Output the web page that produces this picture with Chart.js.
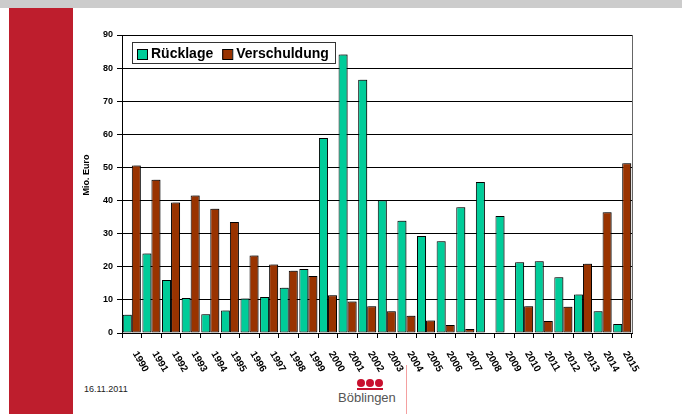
<!DOCTYPE html>
<html lang="de">
<head>
<meta charset="UTF-8">
<title>Rücklage und Verschuldung</title>
<script src="https://cdn.jsdelivr.net/npm/chart.js"></script>
<style>
  body { margin: 0; width: 682px; height: 414px; position: relative; overflow: hidden; background: #fff; font-family: Arial, "Liberation Sans", sans-serif; }
  #topbar { position: absolute; left: 0; top: 0; width: 682px; height: 8px; background: #cccccc; }
  #redblock { position: absolute; left: 9px; top: 8px; width: 64px; height: 406px; background: #be1e2d; }
  #date { position: absolute; left: 84px; top: 384px; font-size: 9px; line-height: 10px; color: #222; }
  .dot { position: absolute; top: 379px; width: 8px; height: 8px; border-radius: 50%; background: #c8102e; }
  #underline { position: absolute; left: 357px; top: 388px; width: 26px; height: 2px; background: #c8102e; }
  #town { position: absolute; left: 338px; top: 390px; font-size: 13px; line-height: 15px; color: #555; }
  #redline { position: absolute; left: 406px; top: 365px; width: 1px; height: 49px; background: #f4a0a0; }
  #chartbox { position: absolute; left: 0; top: 0; width: 682px; height: 414px; }
</style>
</head>
<body>
<div id="topbar"></div>
<div id="redblock"></div>
<div id="date">16.11.2011</div>
<div class="dot" style="left:357px"></div>
<div class="dot" style="left:366px"></div>
<div class="dot" style="left:375px"></div>
<div id="underline"></div>
<div id="town">Böblingen</div>
<div id="redline"></div>
<div id="chartbox"><canvas id="chart" width="682" height="414"></canvas></div>

<script>
const years = ['1990','1991','1992','1993','1994','1995','1996','1997','1998','1999','2000','2001','2002',
               '2003','2004','2005','2006','2007','2008','2009','2010','2011','2012','2013','2014','2015'];
const ruecklage = [5.5, 24.0, 16.0, 10.6, 5.7, 6.8, 10.4, 10.9, 13.7, 19.3, 58.9, 84.1, 76.5,
                   40.1, 33.9, 29.3, 27.7, 38.0, 45.6, 35.3, 21.4, 21.7, 16.8, 11.6, 6.6, 2.7];
const verschuldung = [50.6, 46.3, 39.4, 41.5, 37.5, 33.5, 23.4, 20.7, 18.8, 17.2, 11.4, 9.5, 8.1,
                      6.6, 5.2, 3.8, 2.4, 1.2, 0, 0, 8.1, 3.6, 7.9, 20.9, 36.5, 51.3];
const yMax = 90;
const yStep = 10;
const yTitle = 'Mio. Euro';

// shadow behind bars, like the old office chart
const barShadow = {
  id: 'barShadow',
  beforeDatasetsDraw(chart) {
    const ctx = chart.ctx;
    ctx.save();
    ctx.shadowColor = 'rgba(0,0,0,0.3)';
    ctx.shadowOffsetX = 2;
    ctx.shadowOffsetY = -1;
    ctx.shadowBlur = 0;
  },
  afterDatasetsDraw(chart) {
    chart.ctx.restore();
  }
};

// rotated year labels, axis title, right border and legend box
const extras = {
  id: 'extras',
  afterDraw(chart) {
    const ctx = chart.ctx;
    const area = chart.chartArea;
    const xs = chart.scales.x;

    ctx.save();
    ctx.strokeStyle = '#666';
    ctx.lineWidth = 1;
    ctx.beginPath();
    ctx.moveTo(Math.round(area.right) + 0.5, area.top);
    ctx.lineTo(Math.round(area.right) + 0.5, area.bottom);
    ctx.stroke();

    ctx.fillStyle = '#000';
    ctx.font = 'bold 10px Arial, "Liberation Sans", sans-serif';
    ctx.textAlign = 'left';
    ctx.textBaseline = 'middle';
    years.forEach((y, i) => {
      const x = xs.getPixelForValue(i);
      ctx.save();
      ctx.translate(x + 3, area.bottom + 19);
      ctx.rotate(60 * Math.PI / 180);
      ctx.fillText(y, 0, 0);
      ctx.restore();
    });

    // y title sits a bit above the middle in the original
    ctx.save();
    ctx.font = 'bold 9px Arial, "Liberation Sans", sans-serif';
    ctx.textAlign = 'center';
    ctx.translate(area.left - 35, area.top + (area.bottom - area.top) * 0.47);
    ctx.rotate(-Math.PI / 2);
    ctx.fillText(yTitle, 0, 0);
    ctx.restore();

    // legend
    const lx = area.left + 10, ly = area.top + 7, lw = 203, lh = 21;
    ctx.fillStyle = '#fff';
    ctx.fillRect(lx, ly, lw, lh);
    ctx.strokeStyle = '#333';
    ctx.strokeRect(lx + 0.5, ly + 0.5, lw, lh);
    ctx.font = 'bold 14px Arial, "Liberation Sans", sans-serif';
    let cx = lx + 5;
    chart.data.datasets.forEach(ds => {
      ctx.fillStyle = ds.backgroundColor;
      ctx.fillRect(cx, ly + 7, 10, 10);
      ctx.strokeStyle = '#000';
      ctx.strokeRect(cx + 0.5, ly + 7.5, 10, 10);
      ctx.fillStyle = '#000';
      ctx.textBaseline = 'middle';
      ctx.fillText(ds.label, cx + 14, ly + 12);
      cx += 14 + ctx.measureText(ds.label).width + 9;
    });
    ctx.restore();
  }
};

new Chart(document.getElementById('chart'), {
  type: 'bar',
  data: {
    labels: years,
    datasets: [
      { label: 'Rücklage', data: ruecklage, backgroundColor: '#00cc99', borderColor: '#000', borderWidth: 1,
        borderSkipped: false, categoryPercentage: 0.92, barPercentage: 1 },
      { label: 'Verschuldung', data: verschuldung, backgroundColor: '#993300', borderColor: '#000', borderWidth: 1,
        borderSkipped: false, categoryPercentage: 0.92, barPercentage: 1 }
    ]
  },
  options: {
    responsive: false,
    animation: false,
    devicePixelRatio: 1,
    layout: { padding: { left: 80, top: 35, right: 50, bottom: 0 } },
    plugins: { legend: { display: false }, tooltip: { enabled: false } },
    scales: {
      x: {
        grid: { display: true, drawOnChartArea: false, drawTicks: true, tickLength: 5, color: '#000', offset: true },
        border: { color: '#000', width: 1 },
        ticks: { display: false },
        afterFit: s => { s.height = 81; }
      },
      y: {
        min: 0,
        max: yMax,
        ticks: { stepSize: yStep, color: '#000', padding: 4, font: { family: 'Arial, "Liberation Sans", sans-serif', size: 9, weight: 'bold' } },
        grid: { color: '#000', tickLength: 5 },
        border: { color: '#000', width: 1 },
        title: { display: false },
        afterFit: s => { s.width = 42; }
      }
    }
  },
  plugins: [barShadow, extras]
});
</script>
</body>
</html>
